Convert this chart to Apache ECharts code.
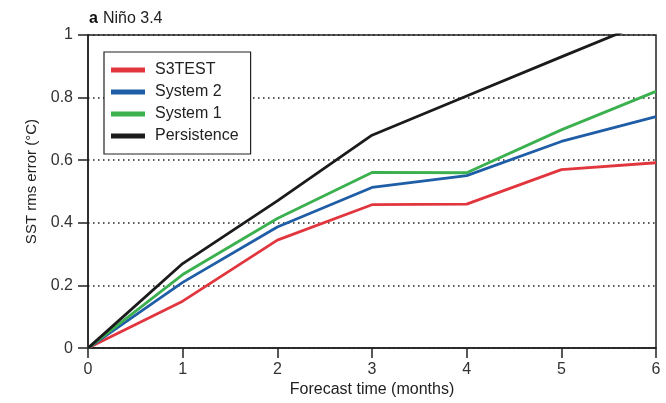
<!DOCTYPE html>
<html>
<head>
<meta charset="utf-8">
<script src="https://cdn.jsdelivr.net/npm/echarts@6/dist/echarts.min.js"></script>
<style>
  html, body { margin: 0; padding: 0; background: #fff; }
  #chart { width: 666px; height: 403px; }
</style>
</head>
<body>
<div id="chart"></div>
<script>
// Forecast lead time in months
const leadMonths = [0, 1, 2, 3, 4, 5, 6];

// SST rms error (°C) for Niño 3.4, by forecast system
const s3test      = [0, 0.15, 0.345, 0.458, 0.46, 0.57, 0.592];
const system2     = [0, 0.21, 0.387, 0.513, 0.551, 0.66, 0.739];
const system1     = [0, 0.235, 0.414, 0.561, 0.56, 0.697, 0.82];
const persistence = [0, 0.27, 0.47, 0.68, 0.805, 0.93, 1.054];

const yTicks = [0, 0.2, 0.4, 0.6, 0.8, 1];

const seriesDefs = [
  { name: 'S3TEST',      data: s3test,      color: '#e2363f' },
  { name: 'System 2',    data: system2,     color: '#1f5ea6' },
  { name: 'System 1',    data: system1,     color: '#3bb04f' },
  { name: 'Persistence', data: persistence, color: '#1b1b1b' }
];

const FONT = 'Liberation Sans, Arial, sans-serif';
const chart = echarts.init(document.getElementById('chart'), null, { renderer: 'canvas' });

chart.setOption({
  animation: false,
  backgroundColor: '#fff',
  textStyle: { fontFamily: FONT },
  title: {
    text: '{b|a} {n|Niño 3.4}',
    left: 84,
    top: 5,
    textStyle: {
      fontWeight: 'normal',
      rich: {
        b: { fontFamily: FONT, fontWeight: 'bold', fontSize: 16, color: '#111' },
        n: { fontFamily: FONT, fontWeight: 'normal', fontSize: 16, color: '#222' }
      }
    }
  },
  grid: {
    left: 88, top: 35, width: 568, height: 314,
    show: true, borderColor: '#222', borderWidth: 1.5, backgroundColor: 'transparent'
  },
  legend: {
    orient: 'vertical',
    left: 104, top: 52,
    padding: [10, 12, 10, 7],
    itemGap: 6,
    itemWidth: 34, itemHeight: 5,
    icon: 'rect',
    backgroundColor: '#fff',
    borderColor: '#222', borderWidth: 1.2, borderRadius: 0,
    textStyle: { fontFamily: FONT, fontSize: 16, color: '#222', lineHeight: 16, padding: [0, 0, 0, 5] },
    data: seriesDefs.map(s => s.name)
  },
  xAxis: {
    type: 'value',
    min: 0, max: 6, interval: 1,
    name: 'Forecast time (months)',
    nameLocation: 'middle',
    nameGap: 25,
    nameTextStyle: { fontFamily: FONT, fontSize: 16, color: '#222' },
    axisLine: { show: true, lineStyle: { color: '#222', width: 1.5 } },
    axisTick: { show: true, inside: false, length: 10, lineStyle: { color: '#222', width: 1.5 } },
    axisLabel: { margin: 13, fontFamily: FONT, fontSize: 16, color: '#333' },
    splitLine: { show: false }
  },
  yAxis: {
    type: 'value',
    min: 0, max: 1, interval: 0.2,
    name: 'SST rms error (°C)',
    nameLocation: 'middle',
    nameGap: 49,
    nameTextStyle: { fontFamily: FONT, fontSize: 15, color: '#222', padding: [0, 0, 0, 20] },
    axisLine: { show: true, lineStyle: { color: '#222', width: 1.5 } },
    axisTick: { show: true, inside: false, length: 10, lineStyle: { color: '#222', width: 1.5 } },
    axisLabel: {
      margin: 15, fontFamily: FONT, fontSize: 16, color: '#333',
      formatter: v => {
        const t = yTicks.find(k => Math.abs(k - v) < 1e-9);
        return t === undefined ? '' : String(t);
      }
    },
    splitLine: {
      show: true,
      lineStyle: { color: '#222', width: 1.5, type: [1.5, 3.5] }
    }
  },
  series: seriesDefs.map(s => ({
    name: s.name,
    type: 'line',
    data: leadMonths.map((m, i) => [m, s.data[i]]),
    color: s.color,
    showSymbol: false,
    symbol: 'none',
    clip: true,
    lineStyle: { color: s.color, width: 2.8 },
    z: 3
  }))
});
</script>
</body>
</html>
